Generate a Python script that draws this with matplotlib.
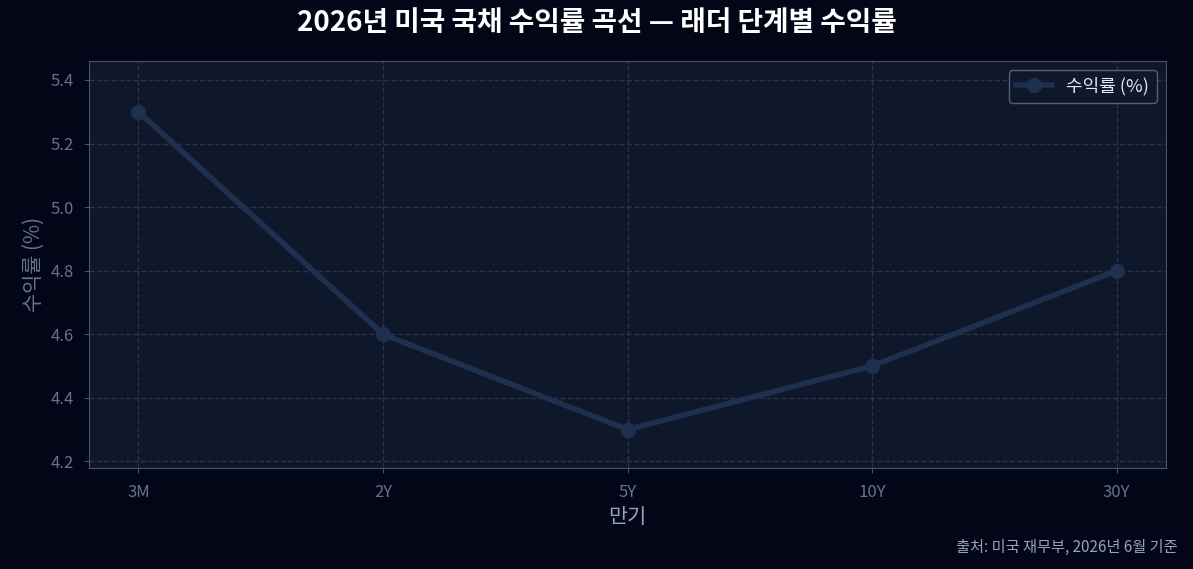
import matplotlib
matplotlib.use("Agg")
import matplotlib.pyplot as plt

plt.rcParams['font.family'] = ['Noto Sans CJK KR', 'DejaVu Sans']

maturities = ["3M", "2Y", "5Y", "10Y", "30Y"]
yields = [5.30, 4.60, 4.30, 4.50, 4.80]

fig = plt.figure(figsize=(11.93, 5.69), dpi=100, facecolor="#020617")
ax = fig.add_axes([0.075, 0.178, 0.902, 0.715])
ax.set_facecolor("#0f172a")
x = range(len(maturities))
ax.plot(x, yields, color="#1e2f50", lw=4, marker="o", ms=10, mfc="#1e2f50", mec="#1e2f50", label="수익률 (%)")
ax.set_xticks(list(x))
ax.set_xticklabels(maturities)
ax.set_xlim(-0.2, 4.2)
ax.set_ylim(4.18, 5.46)
ax.set_yticks([4.2, 4.4, 4.6, 4.8, 5.0, 5.2, 5.4])
ax.grid(True, color="#334155", ls="--", lw=1, alpha=0.7)
for s in ax.spines.values():
    s.set_color("#475569")
ax.tick_params(colors="#475569", labelsize=12, labelcolor="#64748b", pad=8)
ax.set_xlabel("만기", color="#94a3b8", fontsize=15)
ax.set_ylabel("수익률 (%)", color="#64748b", fontsize=15)
fig.suptitle("2026년 미국 국채 수익률 곡선 — 래더 단계별 수익률", color="white", fontsize=20, fontweight="bold", y=0.985)
leg = ax.legend(loc="upper right", facecolor="#0f172a", edgecolor="#64748b", fontsize=13)
for t in leg.get_texts():
    t.set_color("#e2e8f0")
fig.text(0.987, 0.03, "출처: 미국 재무부, 2026년 6월 기준", color="#94a3b8", fontsize=11, ha="right")
fig.savefig("out.png", facecolor=fig.get_facecolor())
